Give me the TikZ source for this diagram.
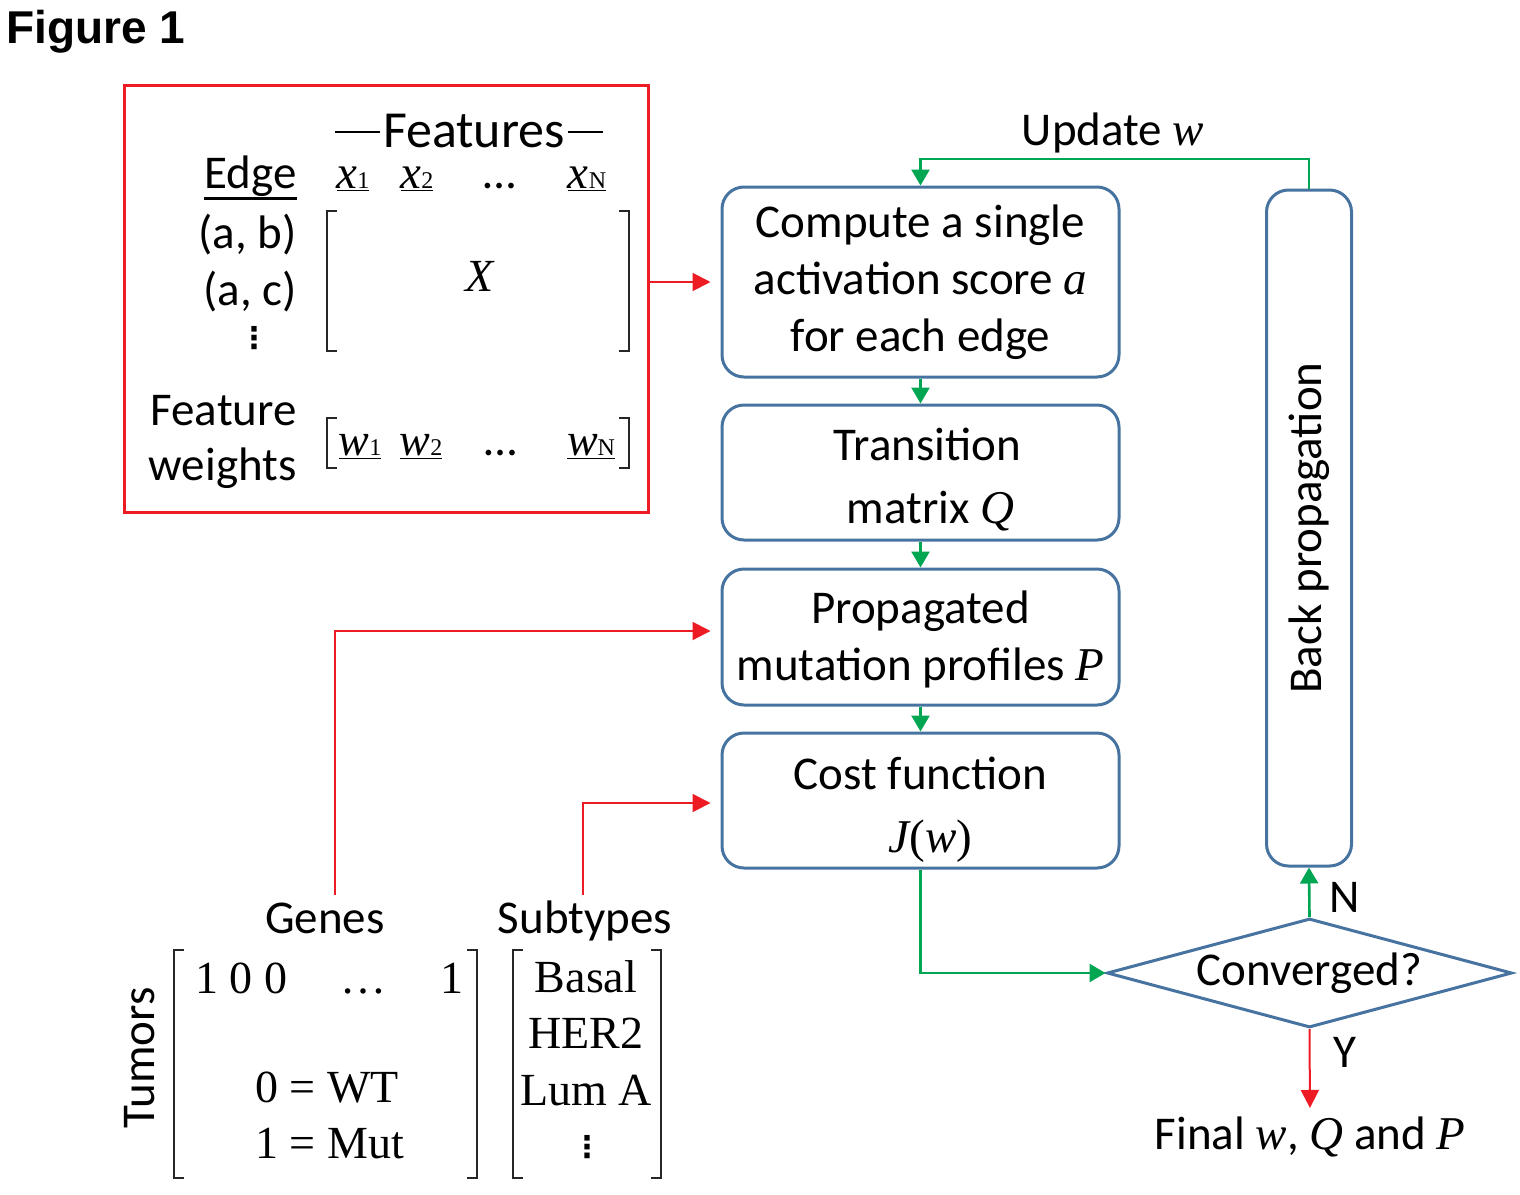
\documentclass[tikz,border=0pt]{standalone}
\usepackage{fontspec}
\setmainfont{Carlito}
\newfontfamily\tnr{Liberation Serif}
\newfontfamily\headfont{Liberation Sans}
\newfontfamily\symfont{DejaVu Sans}
\usetikzlibrary{arrows.meta,shapes.geometric}
\definecolor{myred}{RGB}{237,28,36}
\definecolor{mygreen}{RGB}{0,166,81}
\definecolor{myblue}{RGB}{71,115,160}
\newcommand{\mvar}[1]{{\tnr\itshape #1}}
\newcommand{\msub}[1]{{\tnr\fontsize{12}{12}\selectfont #1}}
\newcommand{\colvdots}{{\symfont\bfseries\fontsize{15}{15}\selectfont ⋮}}

\begin{document}
\begin{tikzpicture}[x=0.5pt, y=-0.5pt,
    txt/.style = {inner sep=0pt, font=\fontsize{23.5}{28.5}\selectfont},
    rom/.style = {inner sep=0pt, font=\tnr\fontsize{23}{28}\selectfont},
    stepbox/.style = {txt, draw=myblue, line width=1.5pt, rounded corners=11pt, minimum width=198.5pt, align=center},
    brk/.style = {line width=0.9pt, black!85},
    greenline/.style = {draw=mygreen, line width=1.3pt, -{Triangle[length=8pt,width=9pt]}},
    redline/.style = {draw=myred, line width=1pt, -{Triangle[length=9pt,width=9pt]}}]
    \useasboundingbox (0,0) rectangle (1520,1194);

    \node[txt, anchor=base west, font=\headfont\bfseries\fontsize{23}{28}\selectfont] (fig) at (6,43) {Figure 1};

    % feature matrix
    \node[draw=myred, line width=1.5pt, minimum width=262pt, minimum height=213.5pt, inner sep=0pt] (featbox) at (386,298.5) {};
    \node[txt, anchor=base, font=\fontsize{26}{30}\selectfont] (feathdr) at (474,147) {Features};
    \draw[line width=0.7pt] (335,132) -- (380,132) (568,132) -- (603,132);
    \node[txt, anchor=base east] (edge) at (297,188) {Edge};
    \draw[line width=1.5pt] ([yshift=-5pt]edge.base west) -- ([yshift=-5pt]edge.base east);
    \foreach \n/\xp/\s in {x1/353/1, x2/417/2, xN/587/N}
        \node[txt, anchor=base] (\n) at (\xp,188) {\underline{\mvar{x}\msub{\s}}};
    \node[txt, anchor=base] (xdots) at (500,188) {\ldots};
    \node[txt, anchor=base east] (ab) at (297,248) {(a, b)};
    \node[txt, anchor=base east] (ac) at (297,305) {(a, c)};
    \node[txt] (evdots) at (254,338) {\colvdots};
    \node[rom, anchor=base] (xmat) at (480,291) {\mvar{X}};
    \node[txt, anchor=base east] (featlbl) at (297,425) {Feature};
    \node[txt, anchor=base east] (wlbl) at (297,480) {weights};
    \foreach \n/\xp/\s in {w1/360/1, w2/421/2, wN/591/N}
        \node[rom, anchor=base] (\n) at (\xp,455) {\underline{\mvar{w}\msub{\s}}};
    \node[txt, anchor=base] (wdots) at (501,455) {\ldots};

    % tumor matrices
    \node[txt, anchor=base] (genes) at (325,933) {Genes};
    \node[txt, anchor=base] (subtypes) at (585,933) {Subtypes};
    \node[txt, rotate=90] (tumors) at (140,1058) {Tumors};
    \node[rom, anchor=base west] (row1) at (195,993) {1 0 0};
    \node[rom, anchor=base] (rdots) at (363,993) {\ldots};
    \node[rom, anchor=base] (rlast) at (452,993) {1};
    \node[rom, anchor=base west] (wt) at (255,1102) {0 = WT};
    \node[rom, anchor=base west] (mut) at (255,1158) {1 = Mut};
    \node[rom, anchor=base] (basal) at (586,992) {Basal};
    \node[rom, anchor=base] (her2) at (586,1048) {HER2};
    \node[rom, anchor=base] (luma) at (586,1105) {Lum A};
    \node[txt] (svdots) at (587,1147) {\colvdots};

    \foreach \xa/\xb/\ya/\yb in {327/629/211/351, 327/629/418/468, 174/477/950/1178, 513/661/950/1178} {
        \draw[brk] (\xa+10,\ya) -| (\xa,\yb) -- (\xa+10,\yb);
        \draw[brk] (\xb-10,\ya) -| (\xb,\yb) -- (\xb-10,\yb);
    }

    % flow
    \node[stepbox, minimum height=95pt] (comp) at (920.5,282) {Compute a single\\activation score \mvar{a}\\for each edge};
    \node[stepbox, minimum height=67.5pt] (trans) at (920.5,472.5) {\hspace*{7pt}Transition\rule{0pt}{23pt}\\[3pt]\hspace*{10pt}matrix \mvar{Q}};
    \node[stepbox, minimum height=68pt] (prop) at (920.5,637) {Propagated\rule{0pt}{19pt}\\mutation profiles \mvar{P}};
    \node[stepbox, minimum height=67.5pt] (cost) at (920.5,800.5) {Cost function\rule{0pt}{25pt}\\[3pt]\hspace*{10pt}{\tnr\itshape J}{\tnr(}\mvar{w}{\tnr)}};
    \node[stepbox, rotate=90, minimum width=338pt, minimum height=42.5pt] (bp) at (1309,528) {Back propagation};
    \node[txt, draw=myblue, line width=1.5pt, diamond, aspect=3.7, minimum width=202.5pt, minimum height=54.5pt] (conv) at (1309.5,973) {Converged?};
    \node[txt, anchor=base] (final) at (1310,1149) {Final \mvar{w}, \mvar{Q} and \mvar{P}};
    \node[txt, anchor=base] (updlbl) at (1113,145) {Update \mvar{w}};
    \node[txt, anchor=base] (nlbl) at (1345,912) {N};
    \node[txt, anchor=base] (ylbl) at (1345,1067) {Y};
    \coordinate (updy) at (1000,159);
    \coordinate (gsrc) at (335,895);
    \coordinate (ssrc) at (583,895);

    \draw[redline, shorten >=5pt] (featbox.east |- comp.west) -- (comp.west);
    \draw[redline, shorten >=5pt] (gsrc) |- ([yshift=3pt]prop.west);
    \draw[redline, shorten >=5pt] (ssrc) |- ([yshift=-1.25pt]cost.west);
    \draw[greenline] (comp.south) -- (trans.north);
    \draw[greenline] (trans.south) -- (prop.north);
    \draw[greenline] (prop.south) -- (cost.north);
    \draw[greenline] (cost.south) |- (conv.west);
    \draw[greenline] (conv.north) -- (bp.west);
    \draw[greenline] (bp.east) |- (comp.north |- updy) -- (comp.north);
    \draw[redline, shorten >=4pt] (conv.south) -- (final.north);
\end{tikzpicture}
\end{document}
